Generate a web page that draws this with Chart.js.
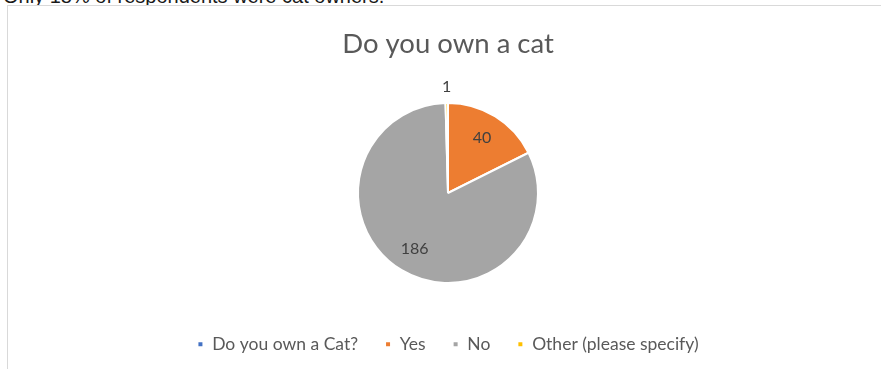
<!DOCTYPE html>
<html>
<head>
<meta charset="utf-8">
<script src="https://cdn.jsdelivr.net/npm/chart.js@4/dist/chart.umd.min.js"></script>
<style>
  body { margin: 0; background: #fff; width: 881px; height: 369px; overflow: hidden; position: relative; }
  #caption { position: absolute; left: 3px; top: -14px; font: 20px "Liberation Sans", Arial, sans-serif; line-height: 20px; color: #1a1a1a; white-space: nowrap; }
  #frame { position: absolute; left: 7px; top: 5px; width: 900px; height: 400px; border: 1px solid #d9d9d9; background: #fff; }
  #cat { position: absolute; left: 0; top: 0; }
</style>
</head>
<body>
<div id="caption">Only 18% of respondents were cat owners.</div>
<div id="frame"></div>
<canvas id="cat" width="881" height="369"></canvas>
<script>
const categories = ['Do you own a Cat?', 'Yes', 'No', 'Other (please specify)'];
const answers = [0, 40, 186, 1];
const sliceColors = ['#4472C4', '#ED7D31', '#A5A5A5', '#FFC000'];

// value labels: inside for big slices, just outside for thin ones
const sliceLabels = {
  id: 'sliceLabels',
  afterDatasetsDraw(chart) {
    const ctx = chart.ctx;
    const meta = chart.getDatasetMeta(0);
    const total = answers.reduce((a, b) => a + b, 0);
    ctx.save();
    ctx.font = '16px Lato, sans-serif';
    ctx.fillStyle = '#404040';
    ctx.textAlign = 'center';
    ctx.textBaseline = 'middle';
    meta.data.forEach((arc, i) => {
      const v = answers[i];
      if (!v) return;
      const p = arc.getProps(['x', 'y', 'startAngle', 'endAngle', 'outerRadius'], true);
      const mid = (p.startAngle + p.endAngle) / 2;
      const r = v / total < 0.05 ? p.outerRadius + 16 : p.outerRadius * 0.72;
      ctx.fillText(String(v), p.x + Math.cos(mid) * r, p.y + Math.sin(mid) * r);
    });
    ctx.restore();
  }
};

new Chart(document.getElementById('cat'), {
  type: 'pie',
  data: {
    labels: categories,
    datasets: [{
      data: answers,
      backgroundColor: sliceColors,
      borderColor: '#ffffff',
      borderWidth: 2
    }]
  },
  options: {
    responsive: false,
    animation: false,
    radius: 90,
    layout: { padding: { left: 15, top: 0, bottom: 6 } },
    plugins: {
      tooltip: { enabled: false },
      title: {
        display: true,
        text: 'Do you own a cat',
        color: '#595959',
        font: { family: 'Lato', size: 27.5, weight: 'normal' },
        padding: { top: 28, bottom: 16.5 }
      },
      legend: {
        position: 'bottom',
        labels: {
          color: '#595959',
          font: { family: 'Lato', size: 17.5 },
          boxWidth: 6,
          boxHeight: 6,
          padding: 27
        }
      }
    }
  },
  plugins: [sliceLabels]
});
</script>
</body>
</html>
